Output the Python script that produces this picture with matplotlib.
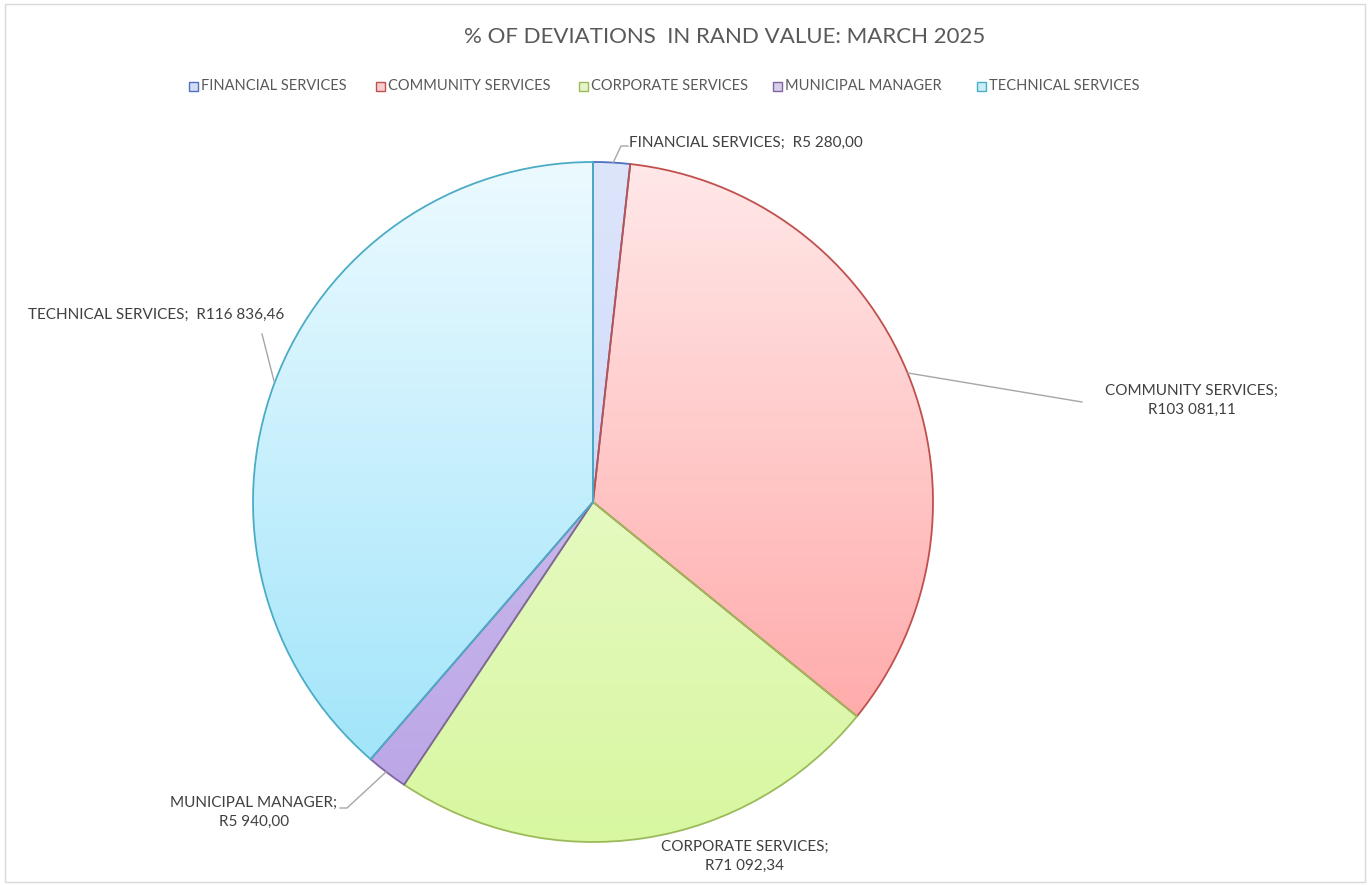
import numpy as np
import matplotlib
matplotlib.use('agg')
import matplotlib.pyplot as plt
from matplotlib.patches import Rectangle
from matplotlib.colors import LinearSegmentedColormap

plt.rcParams['font.family'] = ['Lato', 'DejaVu Sans']

# departments and deviation values (Rand)
departments = ['FINANCIAL SERVICES', 'COMMUNITY SERVICES', 'CORPORATE SERVICES',
               'MUNICIPAL MANAGER', 'TECHNICAL SERVICES']
values = [5280.00, 103081.11, 71092.34, 5940.00, 116836.46]
value_labels = ['R5 280,00', 'R103 081,11', 'R71 092,34', 'R5 940,00', 'R116 836,46']

edge_colors = ['#4f6fbf', '#c0504d', '#9bbb59', '#8064a2', '#4bacc6']
top_colors = ['#dde5fb', '#ffe8e8', '#f2fce0', '#d6c9f0', '#ecfaff']
bottom_colors = ['#c4d2f7', '#ff9e9e', '#d8f7a0', '#baa4e6', '#98e2fa']
legend_fill = ['#d3ddf8', '#f7cfcf', '#e6f5c8', '#d8cfe8', '#c9eef8']

W, H = 1370, 885
fig = plt.figure(figsize=(W / 100, H / 100), dpi=100)
ax = fig.add_axes([0, 0, 1, 1])

# pixel-style coordinates: y measured from the top
def py(y):
    return H - y

cx, cy, r = 593, 502, 340

wedges, _ = ax.pie(values, center=(cx, py(cy)), radius=r, startangle=90,
                   counterclock=False, frame=True,
                   wedgeprops=dict(linewidth=1.3))

# vertical gradient fill for every slice
grad = np.linspace(0, 1, 256).reshape(-1, 1)
for w, ec, c0, c1 in zip(wedges, edge_colors, top_colors, bottom_colors):
    w.set_facecolor('none')
    w.set_edgecolor(ec)
    w.set_zorder(3)
    cmap = LinearSegmentedColormap.from_list('g', [c0, c1])
    im = ax.imshow(grad, cmap=cmap, aspect='auto', origin='upper',
                   extent=(cx - r, cx + r, py(cy + r), py(cy - r)), zorder=2)
    im.set_clip_path(w)
ax.set_xlim(0, W)
ax.set_ylim(0, H)
ax.axis('off')

text_col = '#404040'
line_col = '#a6a6a6'

# leader lines
leaders = [
    [(613, 163), (621, 146), (628, 146)],
    [(908, 373), (1082, 402)],
    None,
    [(386, 772), (347, 808), (340, 808)],
    [(274, 381), (262, 334)],
]
for pts in leaders:
    if pts is None:
        continue
    xs = [p[0] for p in pts]
    ys = [py(p[1]) for p in pts]
    ax.plot(xs, ys, color=line_col, lw=1, zorder=4)

fs = 11
ax.text(629, py(143), f'{departments[0]};  {value_labels[0]}', fontsize=fs,
        color=text_col, ha='left', va='center')
ax.text(1192, py(400), f'{departments[1]};\n{value_labels[1]}', fontsize=fs,
        color=text_col, ha='center', va='center', linespacing=1.45)
ax.text(745, py(856), f'{departments[2]};\n{value_labels[2]}', fontsize=fs,
        color=text_col, ha='center', va='center', linespacing=1.45)
ax.text(254, py(812), f'{departments[3]};\n{value_labels[3]}', fontsize=fs,
        color=text_col, ha='center', va='center', linespacing=1.45)
ax.text(28, py(315), f'{departments[4]};  {value_labels[4]}', fontsize=fs,
        color=text_col, ha='left', va='center')

# title
ax.text(725, py(37), '% OF DEVIATIONS  IN RAND VALUE: MARCH 2025', fontsize=16,
        color='#595959', ha='center', va='center')

# legend
legend_x = [189, 376, 579, 773, 977]
for x, name, ec, fc in zip(legend_x, departments, edge_colors, legend_fill):
    ax.add_patch(Rectangle((x, py(91)), 9, 9, facecolor=fc, edgecolor=ec, lw=1, zorder=5))
    ax.text(x + 12, py(86), name, fontsize=10.5, color='#595959',
            ha='left', va='center')

# chart border
ax.add_patch(Rectangle((5, py(882)), W - 10, 878, facecolor='none',
                       edgecolor='#d9d9d9', lw=1, zorder=1))

fig.savefig('out.png', dpi=100)
